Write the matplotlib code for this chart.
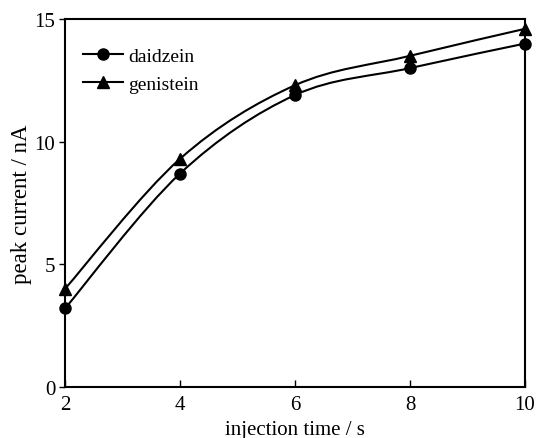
import numpy as np
import matplotlib
matplotlib.use("Agg")
import matplotlib.pyplot as plt
from matplotlib.path import Path
from matplotlib.patches import PathPatch

plt.rcParams['font.family'] = ['Liberation Serif', 'DejaVu Serif']

injection_time = [2, 4, 6, 8, 10]
daidzein = [3.2, 8.7, 11.9, 13.0, 14.0]
genistein = [4.0, 9.3, 12.3, 13.5, 14.6]


def smooth_path(x, y):
    # Catmull-Rom curve through the points, as cubic bezier segments
    x = np.asarray(x, float)
    y = np.asarray(y, float)
    pts = np.column_stack([x, y])
    verts = [pts[0]]
    codes = [Path.MOVETO]
    n = len(pts)
    for i in range(n - 1):
        p0 = pts[i - 1] if i > 0 else pts[i]
        p1 = pts[i]
        p2 = pts[i + 1]
        p3 = pts[i + 2] if i + 2 < n else pts[i + 1]
        c1 = p1 + (p2 - p0) / 6.0
        c2 = p2 - (p3 - p1) / 6.0
        verts += [c1, c2, p2]
        codes += [Path.CURVE4] * 3
    return Path(verts, codes)


fig = plt.figure(figsize=(5.39, 4.39), dpi=100)
ax = fig.add_axes([0.1206, 0.1162, 0.8534, 0.8382])

for vals, mk, name in [(daidzein, 'o', 'daidzein'), (genistein, '^', 'genistein')]:
    ax.add_patch(PathPatch(smooth_path(injection_time, vals), fill=False,
                           edgecolor='black', lw=1.5, clip_on=False))
    ax.plot(injection_time, vals, linestyle='none', marker=mk, color='black',
            markersize=8, clip_on=False, zorder=5)
    ax.plot([], [], '-', marker=mk, color='black', lw=1.5, markersize=8, label=name)

ax.set_xlim(2, 10)
ax.set_ylim(0, 15)
ax.set_xticks([2, 4, 6, 8, 10])
ax.set_yticks([0, 5, 10, 15])
ax.tick_params(axis='x', direction='in', length=5, width=1, labelsize=15, pad=6)
ax.tick_params(axis='y', direction='out', length=4, width=1, labelsize=15, pad=3)
for s in ax.spines.values():
    s.set_linewidth(1.5)

ax.set_xlabel('injection time / s', fontsize=15, labelpad=4)
ax.set_ylabel('peak current / nA', fontsize=16.5, labelpad=2)

ax.legend(loc='upper left', frameon=False, fontsize=14, handlelength=2.1,
          handletextpad=0.25, labelspacing=0.5, borderaxespad=0.5,
          bbox_to_anchor=(0.0, 0.97))

fig.savefig('out.png', dpi=100)
